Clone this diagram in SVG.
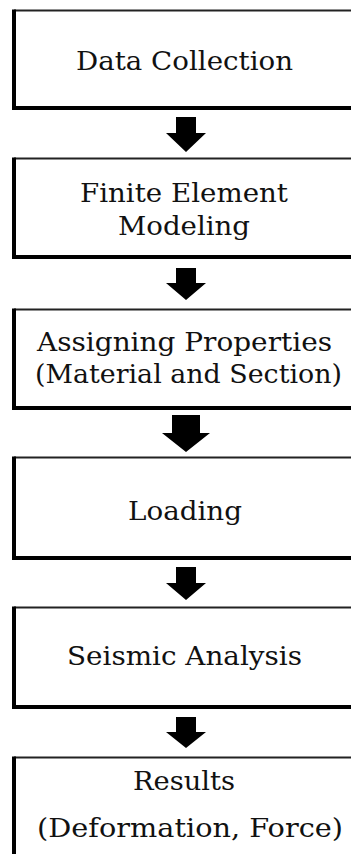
<svg xmlns="http://www.w3.org/2000/svg" width="351" height="854" viewBox="0 0 351 854">
  <style>
    .top { stroke: #222; stroke-width: 2; fill: none; }
    .edge { stroke: #000; stroke-width: 4; fill: none; }
    .box { fill: #fff; }
    .label { font-family: "DejaVu Serif", "Liberation Serif", serif; font-size: 26.5px; fill: #111; text-anchor: middle; }
    .arrow { fill: #000; }
  </style>
  <rect width="351" height="854" fill="#fff"/>

  <!-- process steps: each box has a thin top border and a heavy left/bottom edge -->
  <g id="data-collection">
    <rect class="box" x="14" y="10.5" width="345" height="97.5"/>
    <path class="top" d="M14 10.5 H360"/>
    <path class="edge" d="M14 9.5 V108 H360"/>
    <text class="label" x="184.5" y="70" textLength="217" lengthAdjust="spacingAndGlyphs">Data Collection</text>
  </g>

  <g id="fe-modeling">
    <rect class="box" x="14" y="158.5" width="345" height="98.5"/>
    <path class="top" d="M14 158.5 H360"/>
    <path class="edge" d="M14 157.5 V257 H360"/>
    <text class="label" x="184" y="202" textLength="208" lengthAdjust="spacingAndGlyphs">Finite Element</text>
    <text class="label" x="184" y="235" textLength="132" lengthAdjust="spacingAndGlyphs">Modeling</text>
  </g>

  <g id="assigning-properties">
    <rect class="box" x="14" y="309.5" width="345" height="98.5"/>
    <path class="top" d="M14 309.5 H360"/>
    <path class="edge" d="M14 308.5 V408 H360"/>
    <text class="label" x="184.5" y="351" textLength="295" lengthAdjust="spacingAndGlyphs">Assigning Properties</text>
    <text class="label" x="188.5" y="383" textLength="307" lengthAdjust="spacingAndGlyphs">(Material and Section)</text>
  </g>

  <g id="loading">
    <rect class="box" x="14" y="457.5" width="345" height="100.5"/>
    <path class="top" d="M14 457.5 H360"/>
    <path class="edge" d="M14 456.5 V558 H360"/>
    <text class="label" x="185" y="520" textLength="114" lengthAdjust="spacingAndGlyphs">Loading</text>
  </g>

  <g id="seismic-analysis">
    <rect class="box" x="14" y="607.5" width="345" height="99.5"/>
    <path class="top" d="M14 607.5 H360"/>
    <path class="edge" d="M14 606.5 V707 H360"/>
    <text class="label" x="184.5" y="665" textLength="235" lengthAdjust="spacingAndGlyphs">Seismic Analysis</text>
  </g>

  <g id="results">
    <rect class="box" x="14" y="757.5" width="345" height="110"/>
    <path class="top" d="M14 757.5 H360"/>
    <path class="edge" d="M14 756.5 V870"/>
    <text class="label" x="184" y="790" textLength="102" lengthAdjust="spacingAndGlyphs">Results</text>
    <text class="label" x="190" y="837" textLength="306" lengthAdjust="spacingAndGlyphs">(Deformation, Force)</text>
  </g>

  <!-- block arrows between steps -->
  <g id="connectors">
    <polygon class="arrow" points="176,117 196,117 196,133 206,133 186,152 166,133 176,133"/>
    <polygon class="arrow" points="176,268 196,268 196,283 206,283 186,300 166,283 176,283"/>
    <polygon class="arrow" points="172,415 200,415 200,433 210,433 186,452 162,433 172,433"/>
    <polygon class="arrow" points="176,567 196,567 196,583 206,583 186,600 166,583 176,583"/>
    <polygon class="arrow" points="176,717 196,717 196,732 206,732 186,748 166,732 176,732"/>
  </g>
</svg>
